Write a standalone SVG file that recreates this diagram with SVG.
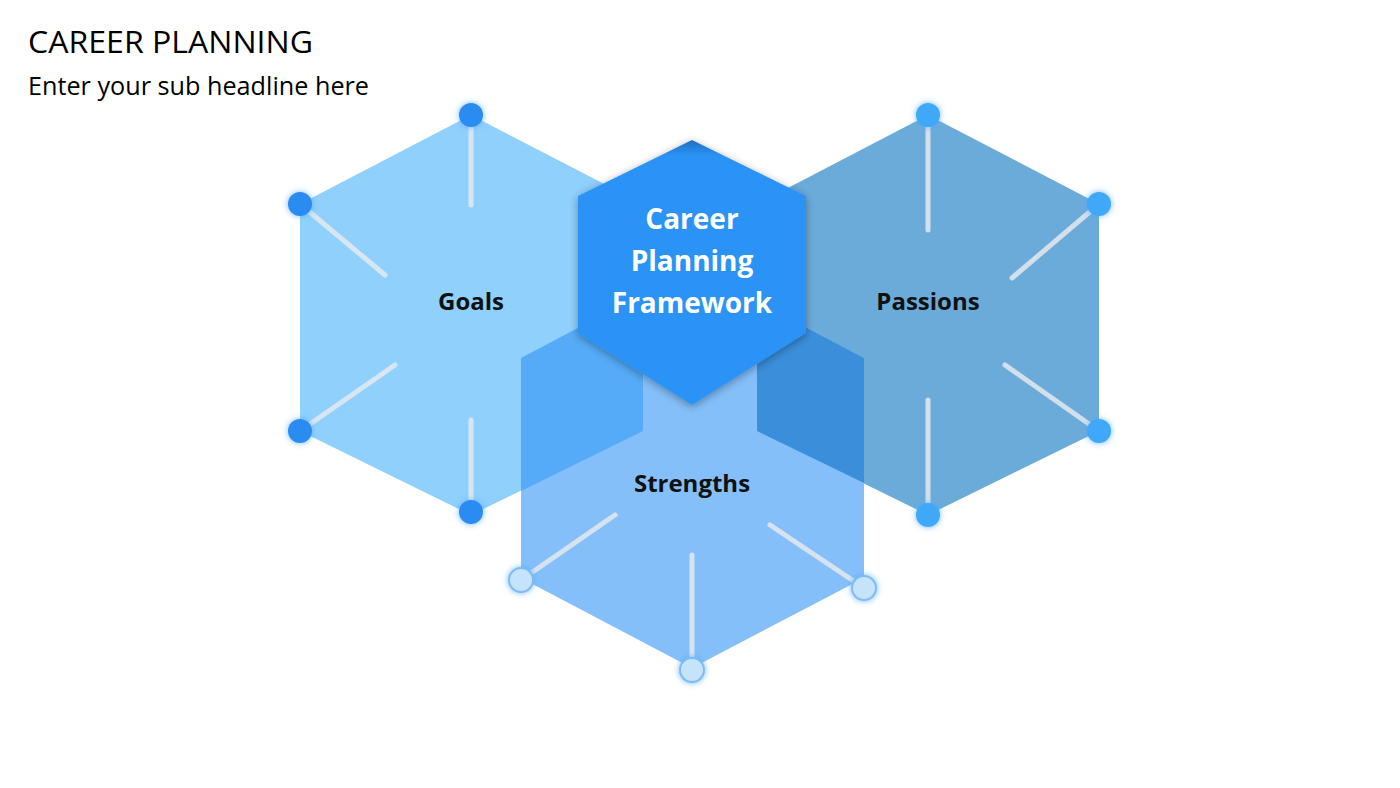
<svg xmlns="http://www.w3.org/2000/svg" width="1400" height="788" viewBox="0 0 1400 788">
<style>
.t{font-family:"Open Sans","Liberation Sans",sans-serif;fill:#000}
.lbl{font-family:"Open Sans","Liberation Sans",sans-serif;font-weight:bold;font-size:24px;text-anchor:middle;fill:#111}
.ln{stroke:#e6e9ee;stroke-width:5;stroke-linecap:round;opacity:0.85}
.dg{fill:#2A8CF0;filter:url(#glow)}
.dp{fill:#3FA8F8;filter:url(#glow)}
.ds{fill:#C6E3FC;stroke:#7DBBF5;stroke-width:2;filter:url(#glow)}
</style>
<defs>
<filter id="glow" x="-1" y="-1" width="3" height="3"><feGaussianBlur in="SourceAlpha" stdDeviation="3" result="b"/><feFlood flood-color="#4FA8FF" flood-opacity="0.8"/><feComposite in2="b" operator="in" result="g"/><feMerge><feMergeNode in="g"/><feMergeNode in="SourceGraphic"/></feMerge></filter>
<filter id="sh" x="-0.2" y="-0.2" width="1.4" height="1.4"><feGaussianBlur in="SourceAlpha" stdDeviation="4"/><feOffset dy="2"/><feComponentTransfer><feFuncA type="linear" slope="0.35"/></feComponentTransfer><feMerge><feMergeNode/><feMergeNode in="SourceGraphic"/></feMerge></filter>
<linearGradient id="cg" x1="0" y1="0" x2="0" y2="1"><stop offset="0" stop-color="#1E6FC0"/><stop offset="0.06" stop-color="#2A93F5"/><stop offset="1" stop-color="#2A93F5"/></linearGradient>
</defs>
<text class="t" x="28" y="53" font-size="31" textLength="285" lengthAdjust="spacingAndGlyphs">CAREER PLANNING</text>
<text class="t" x="28" y="95" font-size="25" textLength="341" lengthAdjust="spacingAndGlyphs">Enter your sub headline here</text>
<g id="goals"><polygon points="471,115 643,204 643,431 471,515 300,431 300,204" fill="#8FD0FC"/></g>
<g id="passions"><polygon points="928,115 1099,204 1099,431 928,515 757,431 757,204" fill="#6BABD9"/></g>
<g id="strengths"><polygon points="692,268 864,358 864,578 692,668 521,578 521,358" fill="#84BFFA"/>
<polygon points="521,358 643,294 643,431 521,491" fill="#55ABF7"/>
<polygon points="757,302 864,358 864,483 757,431" fill="#3A8EDA"/></g>
<g id="connectors">
<line class="ln" x1="471" y1="115" x2="471" y2="205"/>
<line class="ln" x1="300" y1="204" x2="385" y2="275"/>
<line class="ln" x1="300" y1="431" x2="395" y2="365"/>
<line class="ln" x1="471" y1="512" x2="471" y2="420"/>
<line class="ln" x1="928" y1="115" x2="928" y2="230"/>
<line class="ln" x1="1099" y1="204" x2="1012" y2="278"/>
<line class="ln" x1="1099" y1="431" x2="1005" y2="365"/>
<line class="ln" x1="928" y1="515" x2="928" y2="400"/>
<line class="ln" x1="521" y1="580" x2="615" y2="515"/>
<line class="ln" x1="864" y1="588" x2="770" y2="525"/>
<line class="ln" x1="692" y1="670" x2="692" y2="555"/>
</g>
<g id="dots">
<circle class="dg" cx="471" cy="115" r="12"/><circle class="dg" cx="300" cy="204" r="12"/><circle class="dg" cx="300" cy="431" r="12"/><circle class="dg" cx="471" cy="512" r="12"/>
<circle class="dp" cx="928" cy="115" r="12"/><circle class="dp" cx="1099" cy="204" r="12"/><circle class="dp" cx="1099" cy="431" r="12"/><circle class="dp" cx="928" cy="515" r="12"/>
<circle class="ds" cx="521" cy="580" r="12"/><circle class="ds" cx="864" cy="588" r="12"/><circle class="ds" cx="692" cy="670" r="12"/>
</g>
<g id="center"><polygon points="692,140 806,196 806,333 692,405 578,333 578,196" fill="url(#cg)" filter="url(#sh)"/>
<text class="lbl" style="fill:#fff;font-size:28px" x="692" y="229">Career</text>
<text class="lbl" style="fill:#fff;font-size:28px" x="692" y="271">Planning</text>
<text class="lbl" style="fill:#fff;font-size:28px" x="692" y="313">Framework</text></g>
<text class="lbl" x="471" y="310">Goals</text>
<text class="lbl" x="928" y="310">Passions</text>
<text class="lbl" x="692" y="492">Strengths</text>
</svg>
